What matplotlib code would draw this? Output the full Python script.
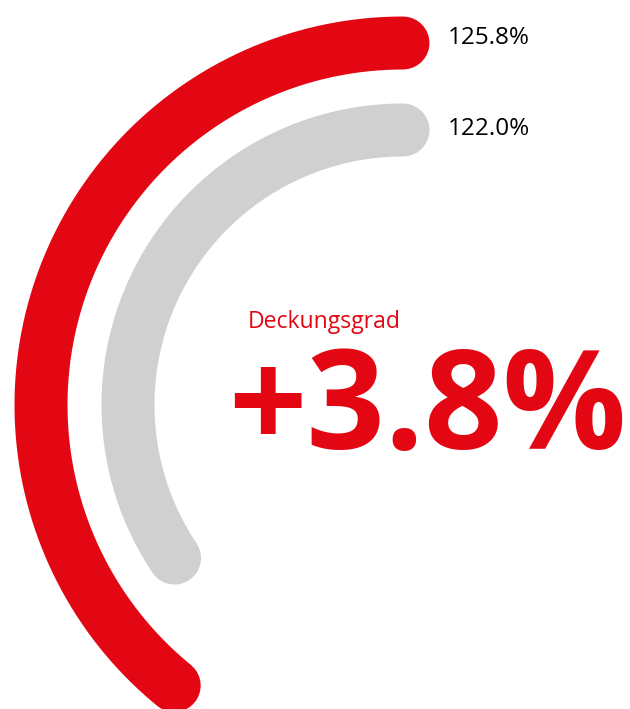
import numpy as np
import matplotlib
matplotlib.use("Agg")
import matplotlib.pyplot as plt

# ---- data ----
series_names = ["Aktuell", "Vorjahr"]
values = [125.8, 122.0]          # Deckungsgrad in %
value_labels = ["125.8%", "122.0%"]
title_text = "Deckungsgrad"

# ---- styles ----
colors = ["#E30613", "#D0D0D0"]
radii_px = [362, 275]
band_px = 53
label_dy_pt = [3.4, 1.0]

# value -> angle scale (degrees swept counter-clockwise from the top)
SCALE_V0 = 94.3
SCALE_DEG_PER_UNIT = 4.47

W, H, DPI = 630, 709, 100
fig = plt.figure(figsize=(W / DPI, H / DPI), dpi=DPI)

cx, cy, R = 403, 405, 400   # centre of arcs (px, from top-left), axes radius px
ax = fig.add_axes([(cx - R) / W, (H - cy - R) / H, 2 * R / W, 2 * R / H],
                  projection="polar")
ax.set_theta_zero_location("N")
ax.set_theta_direction(1)
ax.set_ylim(0, R)
ax.axis("off")

lw_pt = band_px * 72 / DPI
for v, r, c, lab, dy in zip(values, radii_px, colors, value_labels, label_dy_pt):
    sweep = np.deg2rad((v - SCALE_V0) * SCALE_DEG_PER_UNIT)
    th = np.linspace(0, sweep, 300)
    ax.plot(th, np.full_like(th, r), color=c, lw=lw_pt,
            solid_capstyle="round", clip_on=False)
    ax.annotate(lab, xy=(0, r), xytext=(45 * 72 / DPI, dy),
                textcoords="offset points", ha="left", va="center",
                fontsize=17.5, family="Open Sans", color="#000000",
                annotation_clip=False)

fig.text(248 / W, 1 - 328 / H, title_text, ha="left", va="baseline",
         fontsize=16.6, family="Open Sans", color=colors[0])

diff = values[0] - values[1]
fig.text(427 / W, 1 - 449 / H, f"+{diff:.1f}%", ha="center", va="baseline",
         fontsize=99, family="Open Sans", fontweight="bold", color=colors[0])

fig.savefig("out.png", dpi=DPI)
